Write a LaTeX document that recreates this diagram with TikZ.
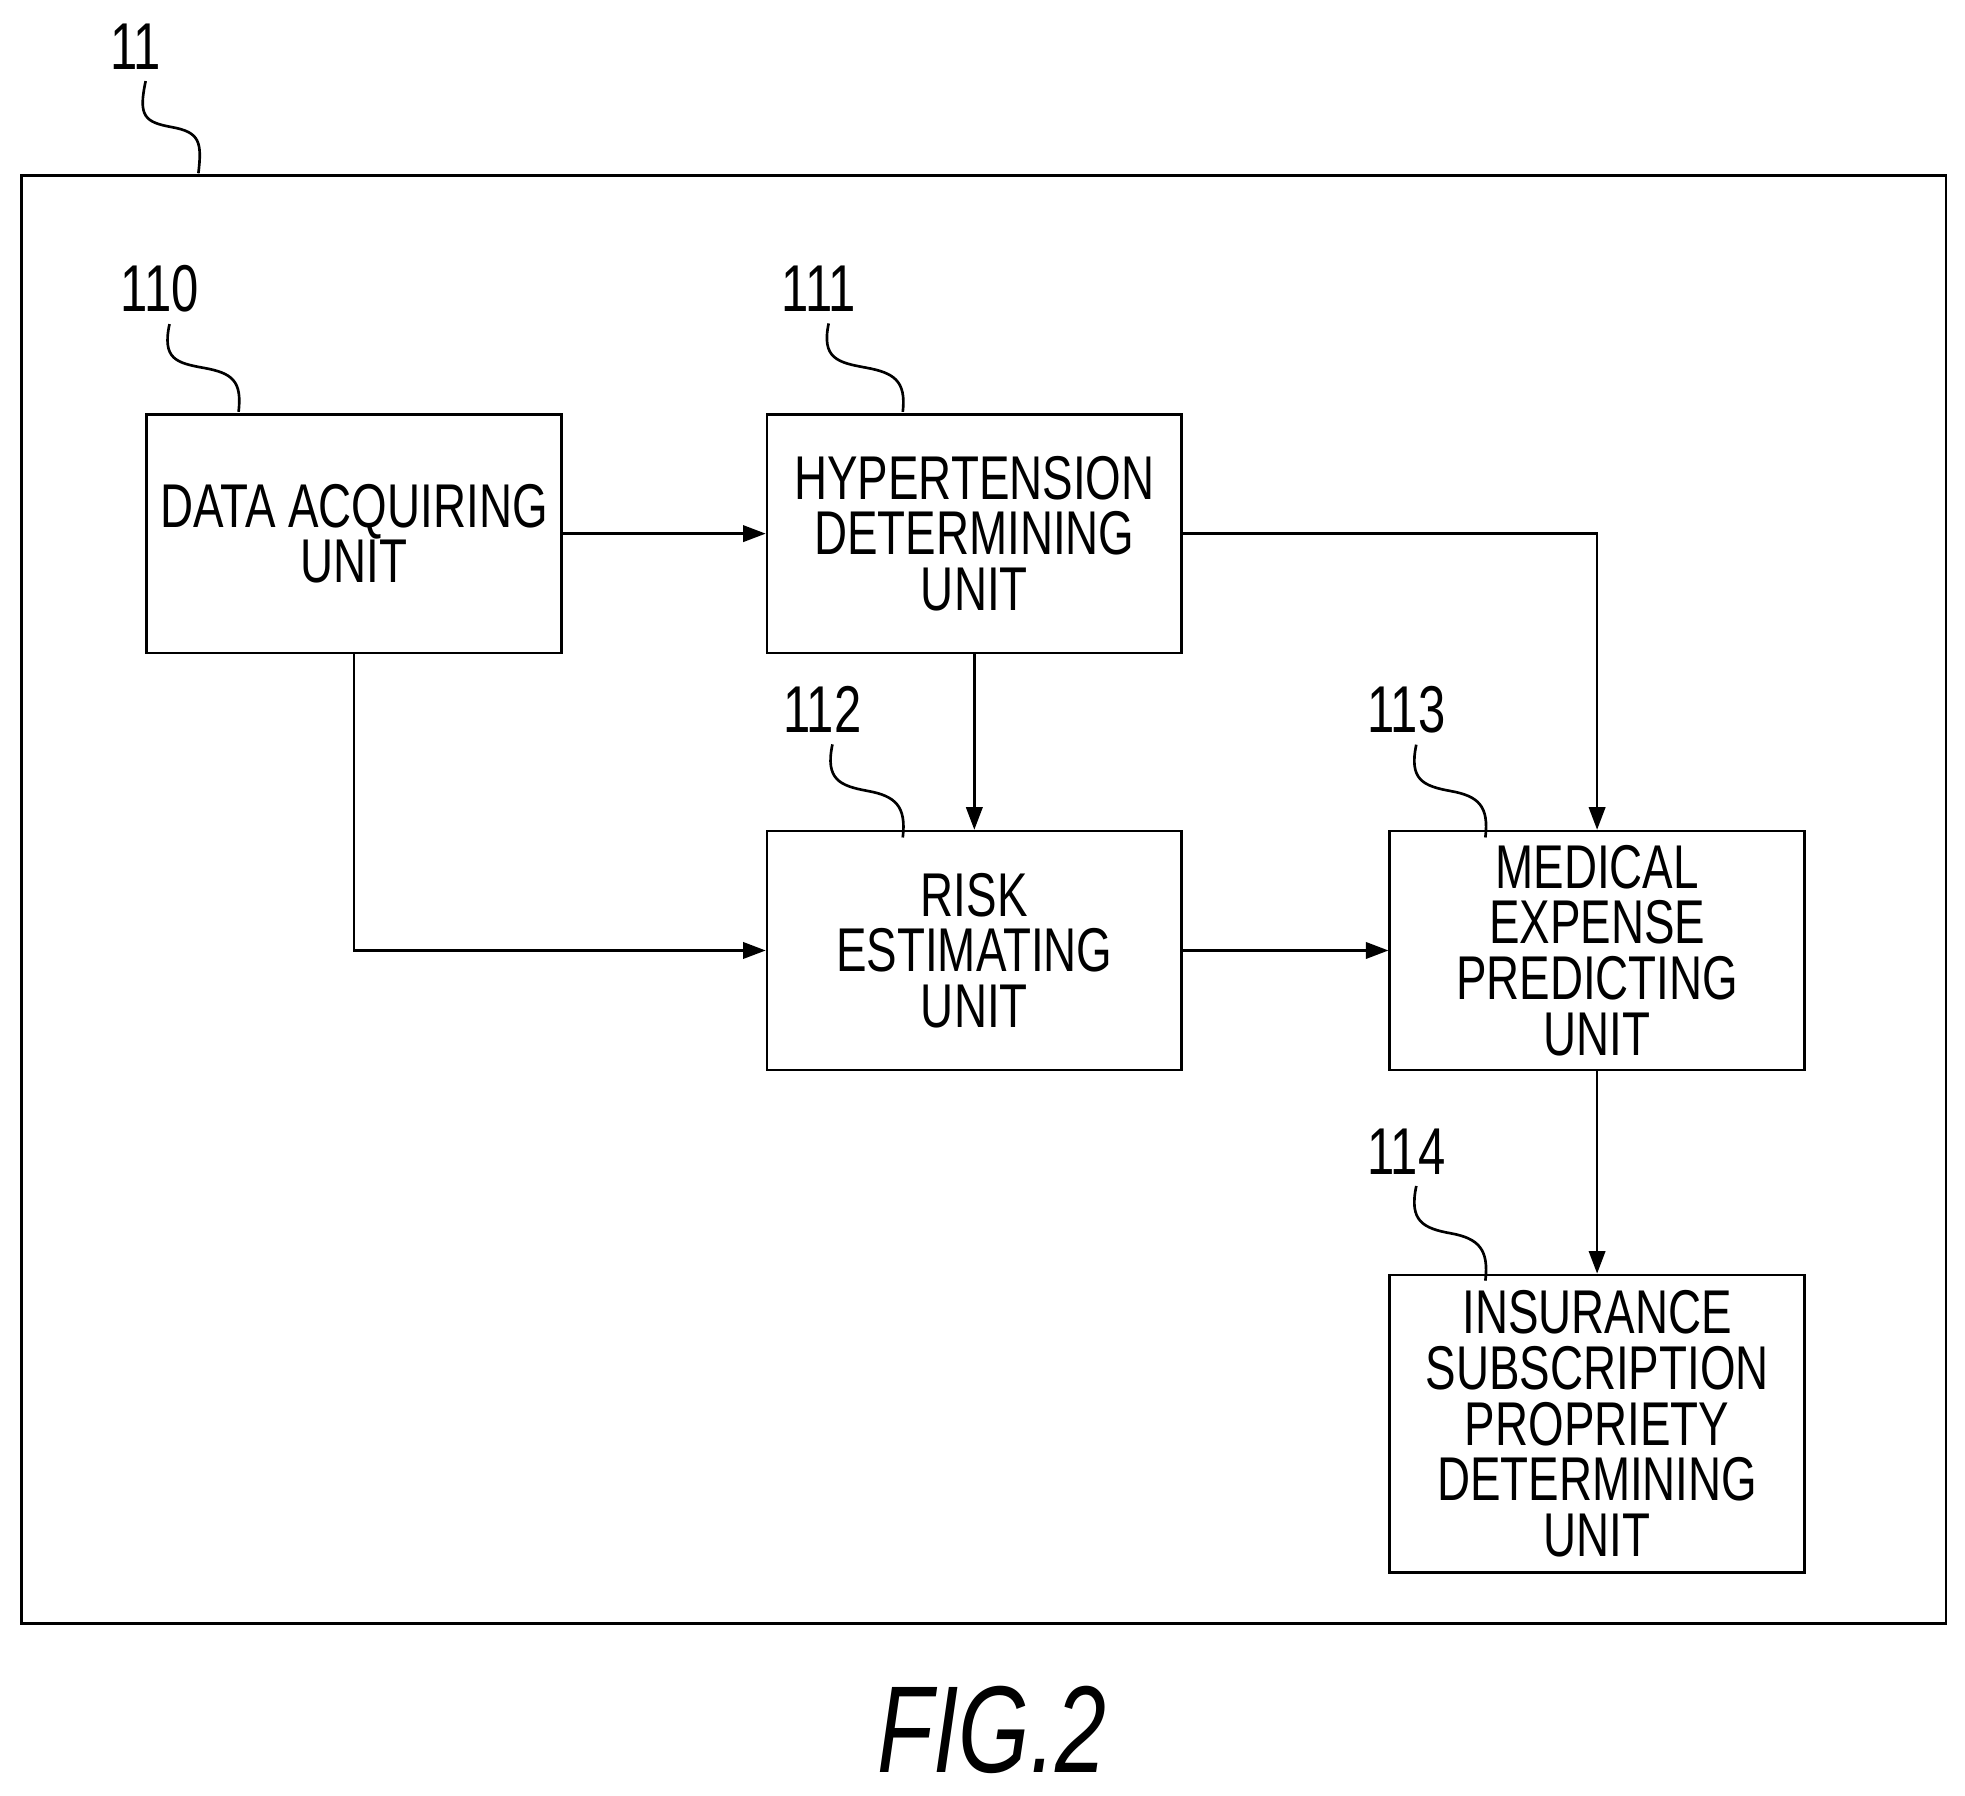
\documentclass[tikz,border=0pt]{standalone}
\usepackage{fontspec}
\setmainfont{Liberation Sans}[FakeStretch=0.74]
\usetikzlibrary{arrows.meta, calc}
\tikzstyle{unit} = [
    rectangle,
    draw=black,
    semithick,
    inner sep=1pt,
    minimum width=3.3cm,
    minimum height=1.9cm,
    text centered,
    align=center,
    font=\fontsize{14}{12.6}\selectfont
]
\tikzstyle{ref} = [font=\fontsize{15}{15}\selectfont]
\tikzstyle{arrow} = [semithick, -{Triangle[length=1.8mm,width=1.3mm]}]
\newcommand{\tagcurve}[2]{%
    \draw[semithick] (#1) .. controls +(-0.06cm,-0.28cm) and +(-0.22cm,0.04cm) .. ($(#1)!0.5!(#2)$)
        .. controls +(0.22cm,-0.04cm) and +(0.03cm,0.25cm) .. (#2);}

\begin{document}
\begin{tikzpicture}[x=0.01cm, y=-0.01cm]
    \useasboundingbox (0,0) rectangle (1565,1430);
    \draw[semithick] (17,140) rectangle (1550,1293);

    \node (acquire) [unit] at (282,425) {DATA ACQUIRING\\UNIT};
    \node (hyper) [unit] at (776,425) {HYPERTENSION\\DETERMINING\\UNIT};
    \node (risk) [unit] at (776,757) {RISK\\ESTIMATING\\UNIT};
    \node (expense) [unit] at (1272,757) {MEDICAL\\EXPENSE\\PREDICTING\\UNIT};
    \node (insurance) [unit, minimum height=2.37cm] at (1272,1134)
        {INSURANCE\\SUBSCRIPTION\\PROPRIETY\\DETERMINING\\UNIT};

    % reference numerals
    \node (l11) [ref] at (108,37) {11};
    \node (l110) [ref] at (127,230) {110};
    \node (l111) [ref] at (652,230) {111};
    \node (l112) [ref] at (655,565) {112};
    \node (l113) [ref] at (1120,565) {113};
    \node (l114) [ref] at (1120,917) {114};
    \coordinate (e11) at (158,138);
    \coordinate (e110) at (190,328);
    \coordinate (e111) at (719,328);
    \coordinate (e112) at (719,667);
    \coordinate (e113) at (1183,667);
    \coordinate (e114) at (1183,1020);
    \foreach \n in {11,110,111,112,113,114}
        \tagcurve{$(l\n.south)+(8,-3)$}{e\n};

    % connectors
    \draw [arrow] (acquire) -- (hyper);
    \draw [arrow] (acquire.south) |- (risk.west);
    \draw [arrow] (hyper) -- (risk);
    \draw [arrow] (hyper.east) -| (expense.north);
    \draw [arrow] (risk) -- (expense);
    \draw [arrow] (expense) -- (insurance);

    \node (caption) at (790,1378) {\fontsize{28}{28}\selectfont\itshape FIG.2};
\end{tikzpicture}
\end{document}
